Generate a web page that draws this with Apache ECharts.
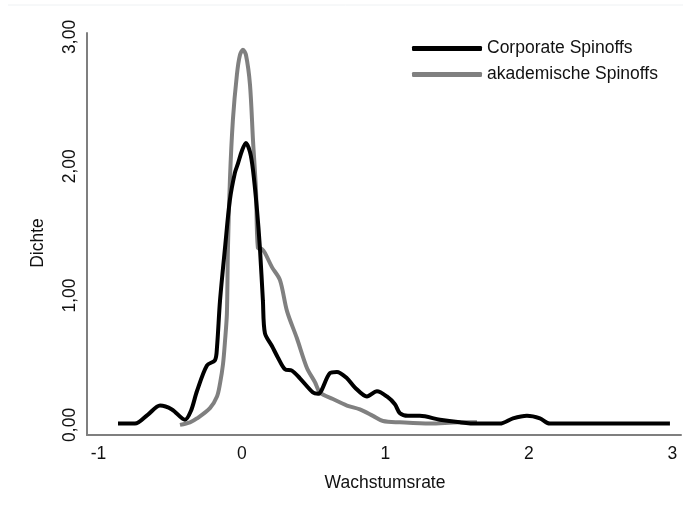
<!DOCTYPE html>
<html>
<head>
<meta charset="utf-8">
<script src="https://cdn.jsdelivr.net/npm/echarts@6/dist/echarts.min.js"></script>
<style>
html,body{margin:0;padding:0;background:#fff;}
#chart{width:683px;height:509px;}
</style>
</head>
<body>
<div id="chart"></div>
<script>
// Corporate Spinoffs density estimate
var corpX = [-0.864,-0.746,-0.655,-0.571,-0.488,-0.397,-0.355,-0.314,-0.244,-0.188,-0.174,-0.153,-0.118,-0.084,-0.049,-0.028,0.000,0.028,0.056,0.077,0.105,0.125,0.146,0.160,0.209,0.251,0.300,0.348,0.404,0.495,0.530,0.613,0.662,0.732,0.787,0.871,0.941,1.010,1.066,1.101,1.157,1.240,1.380,1.519,1.638,1.798,1.889,1.986,2.077,2.146,2.983];
var corpY = [0.01,0.01,0.08,0.15,0.12,0.04,0.11,0.26,0.46,0.50,0.60,0.96,1.37,1.74,1.95,2.02,2.12,2.18,2.11,1.97,1.66,1.37,0.96,0.71,0.61,0.52,0.43,0.42,0.36,0.25,0.24,0.40,0.41,0.36,0.29,0.22,0.26,0.22,0.16,0.09,0.07,0.07,0.04,0.02,0.01,0.01,0.05,0.07,0.05,0.01,0.01];
// akademische Spinoffs density estimate
var akaX = [-0.432,-0.362,-0.314,-0.223,-0.174,-0.153,-0.132,-0.118,-0.105,-0.098,-0.084,-0.063,-0.035,-0.014,0.007,0.028,0.056,0.077,0.098,0.111,0.139,0.160,0.209,0.265,0.314,0.383,0.453,0.509,0.544,0.634,0.732,0.822,0.913,0.983,1.101,1.310,1.519,1.638];
var akaY = [0.00,0.02,0.05,0.13,0.22,0.32,0.47,0.65,0.86,1.35,1.89,2.36,2.71,2.86,2.90,2.86,2.63,2.20,1.81,1.37,1.36,1.33,1.22,1.12,0.88,0.67,0.44,0.33,0.25,0.20,0.15,0.12,0.07,0.03,0.02,0.01,0.02,0.02];
var seriesNames = ['Corporate Spinoffs','akademische Spinoffs'];
var xTicks = [-1,0,1,2,3];
var yTicks = [0,1,2,3];
var xTitle = 'Wachstumsrate';
var yTitle = 'Dichte';

function pairs(xs, ys){ return xs.map(function(x,i){ return [x, ys[i]]; }); }

var chart = echarts.init(document.getElementById('chart'));
var font = 'Liberation Sans, Arial, sans-serif';
var fs = 17.5;
chart.setOption({
  animation:false,
  backgroundColor:'#fff',
  grid:{left:87, right:2, top:33, bottom:74, containLabel:false},
  xAxis:{
    type:'value', min:-1.08, max:3.06,
    axisLine:{show:true, onZero:false, lineStyle:{color:'#7f7f7f', width:2}},
    axisTick:{show:false},
    splitLine:{show:false},
    axisLabel:{customValues:xTicks, color:'#111', fontSize:fs, fontFamily:font, margin:10,
      formatter:function(v){ return String(v); }}
  },
  yAxis:{
    type:'value', min:-0.078, max:3.03,
    axisLine:{show:true, onZero:false, lineStyle:{color:'#7f7f7f', width:2}},
    axisTick:{show:false},
    splitLine:{show:false},
    axisLabel:{customValues:yTicks, rotate:90, color:'#111', fontSize:fs, fontFamily:font, margin:8,
      formatter:function(v){ return v.toFixed(2).replace('.',','); }}
  },
  legend:{
    orient:'vertical', left:407, top:34, itemGap:7, itemWidth:70, itemHeight:5,
    icon:'roundRect', textStyle:{fontSize:fs, fontFamily:font, color:'#111', lineHeight:19},
    data:seriesNames
  },
  graphic:[
    {type:'line', shape:{x1:8, y1:5, x2:683, y2:5}, style:{stroke:'#eef1f3', lineWidth:1}, silent:true},
    {type:'text', x:385, y:483, style:{text:xTitle, textAlign:'center', textVerticalAlign:'middle', font:fs+'px '+font, fill:'#111'}},
    {type:'text', x:38, y:243, rotation:Math.PI/2, style:{text:yTitle, textAlign:'center', textVerticalAlign:'middle', font:fs+'px '+font, fill:'#111'}}
  ],
  series:[
    {name:seriesNames[0], type:'line', data:pairs(corpX,corpY), showSymbol:false, smooth:0.3,
      lineStyle:{color:'#000', width:4}, itemStyle:{color:'#000'}, z:3},
    {name:seriesNames[1], type:'line', data:pairs(akaX,akaY), showSymbol:false, smooth:0.3,
      lineStyle:{color:'#808080', width:4}, itemStyle:{color:'#808080'}, z:2}
  ]
});
</script>
</body>
</html>
